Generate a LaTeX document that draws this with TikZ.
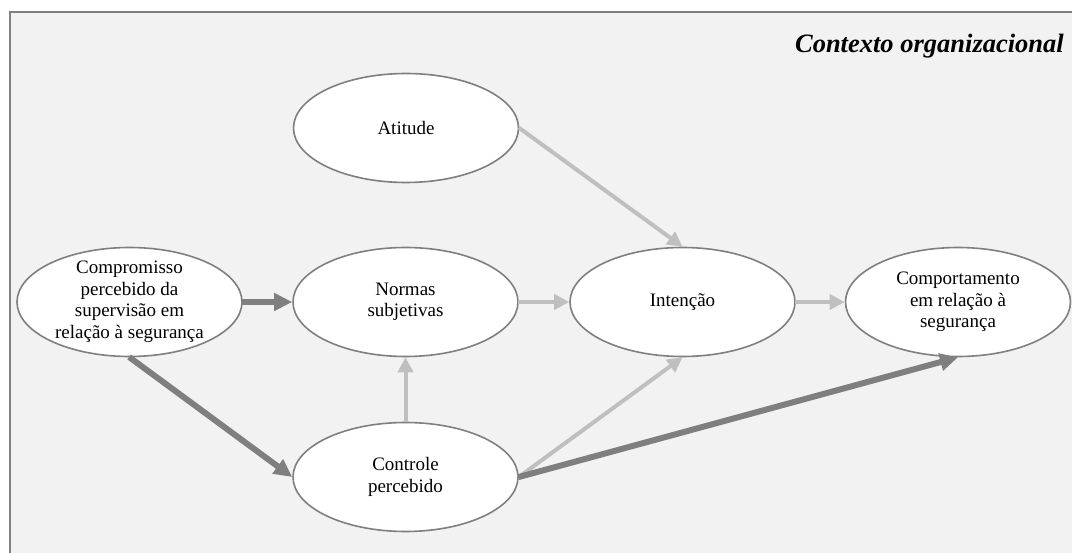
\documentclass[tikz,border=0pt]{standalone}
\usepackage{fontspec}
\setmainfont{Liberation Serif}
\usetikzlibrary{shapes.geometric,arrows.meta}
\definecolor{bgc}{HTML}{F2F2F2}
\definecolor{darkc}{HTML}{7F7F7F}
\definecolor{lightc}{HTML}{BFBFBF}
\definecolor{framec}{HTML}{808080}
\tikzset{
  oval/.style={ellipse, draw=darkc, line width=1.6pt, fill=white, minimum width=225pt, minimum height=109pt, inner sep=0pt},
  lbl/.style={align=center, font=\fontsize{19}{21.5}\selectfont, inner sep=0pt},
  strong/.style={draw=darkc, line width=6pt, -{Triangle[length=18pt,width=17pt]}, shorten <=-0.5pt},
  weak/.style={draw=lightc, line width=4pt, -{Triangle[length=15pt,width=15pt]}, shorten <=-0.5pt},
}
\begin{document}
\begin{tikzpicture}[x=1pt,y=-1pt]
\useasboundingbox (0,0) rectangle (1072,553);
\draw[framec, line width=1.5pt, fill=bgc] (10,12) rectangle (1090,570);
\node[anchor=base east, inner sep=0pt, font=\fontsize{26.5}{30}\selectfont\bfseries\itshape] (title) at (1064,53) {Contexto organizacional};

\node[oval] (at) at (406,128) {};
\node[oval] (cm) at (129.5,302) {};
\node[oval] (nm) at (405.5,302) {};
\node[oval] (it) at (682.5,302) {};
\node[oval] (cp) at (958,302) {};
\node[oval] (ct) at (405.5,477) {};

\node[lbl] (atl) at (at) {Atitude};
\node[lbl] (cml) at (cm) {Compromisso\\percebido da\\supervisão em\\relação à segurança};
\node[lbl] (nml) at (nm) {Normas\\subjetivas};
\node[lbl] (itl) at (it) {Intenção};
\node[lbl] (cpl) at (cp) {Comportamento\\em relação à\\segurança};
\node[lbl] (ctl) at (ct) {Controle\\percebido};

\draw[strong] (cm.east) -- (nm.west);
\draw[weak] (nm.east) -- (it.west);
\draw[weak] (it.east) -- (cp.west);
\draw[weak] (at.east) -- (it.north);
\draw[weak] (ct.north) -- (nm.south);
\draw[weak] (ct.east) -- (it.south);
\draw[strong] (ct.east) -- (cp.south);
\draw[strong] (cm.south) -- (ct.west);
\end{tikzpicture}
\end{document}
